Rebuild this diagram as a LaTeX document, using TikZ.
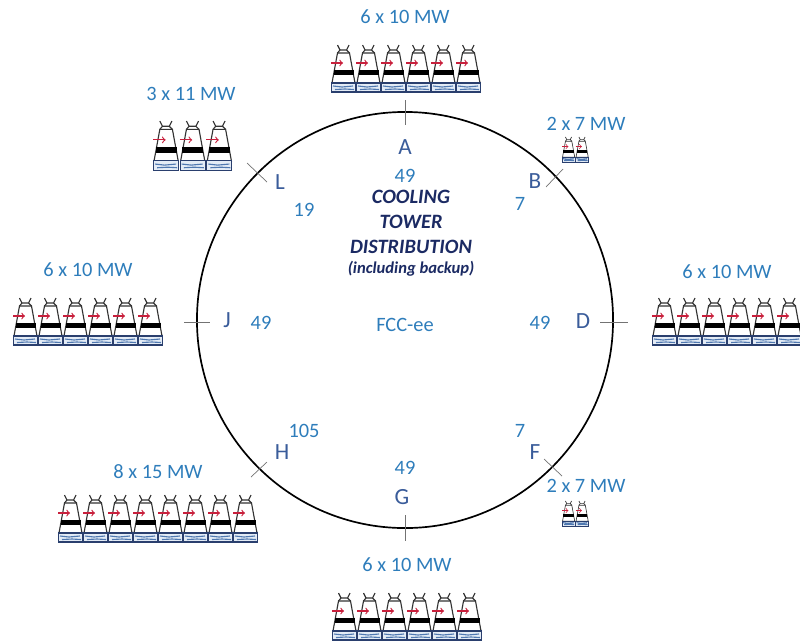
\documentclass[tikz,border=0pt]{standalone}
\usepackage{xcolor}
\usepackage{fontspec}
\setmainfont{Carlito}
\usepackage{tikz}
\usetikzlibrary{arrows,positioning}

\definecolor{labelblue}{HTML}{2E7DBB}
\definecolor{letterblue}{HTML}{3A5C9A}
\definecolor{titlenavy}{HTML}{1B2A63}
\definecolor{basenavy}{HTML}{2A3F6E}
\definecolor{waterblue}{HTML}{E4ECF6}
\definecolor{wavedark}{HTML}{4F78B0}
\definecolor{intakered}{HTML}{C8203C}

\begin{document}
\begin{tikzpicture}[
    x=0.025cm, y=-0.025cm,
    power/.style={font=\fontsize{14.5}{16}\selectfont, text=labelblue, inner sep=0pt},
    load/.style={font=\fontsize{14.5}{16}\selectfont, text=labelblue, inner sep=0pt},
    point/.style={font=\fontsize{16.5}{18}\selectfont, text=letterblue, inner sep=0pt},
    heading/.style={font=\fontsize{14.5}{16}\selectfont\bfseries\itshape, text=titlenavy, inner sep=0pt},
    tick/.style={draw=black!55, line width=0.5pt},
    tower/.pic={
        % shell
        \draw[draw=black!80, fill=white] (1,38) -- (6.5,8) -- (18.5,8) -- (24,38) -- cycle;
        \fill[black] (2.5,25) rectangle (22.5,30);
        % base with water
        \draw[draw=basenavy, fill=waterblue] (0.5,38) rectangle (24.5,47);
        \draw[wavedark, line width=0.8pt] (2,41) -- (11,42) -- (22,41) (4,44.5) -- (14,44) -- (23,44.5);
        % neck
        \draw[black!80] (6.5,8) -- (9,5) -- (6.5,0) (18.5,8) -- (15.5,5) -- (18,0) (9,5) -- (15.5,5);
        % intake
        \draw[->, intakered] (0,18) -- (12,18);
    }
]
\useasboundingbox (0,0) rectangle (800,640);

% Ring
\node[circle, draw, line width=1.2pt, minimum size=10.4cm, inner sep=0pt] (ring) at (405,320) {};

% Ticks
\foreach \name/\xa/\ya/\xb/\yb in {A/405/100/405/125, B/563/169/546/187, D/600/322/628/322, F/544/459/562/476,
    G/405/515/405/541, H/251/477/267/462, J/184/322/210/322, L/247/163/267/182} {
    \coordinate (tick\name a) at (\xa,\ya);
    \coordinate (tick\name b) at (\xb,\yb);
    \draw[tick] (tick\name a) -- (tick\name b);
}

% Towers
\foreach \name/\xo/\yo/\n/\w/\s/\lw in {A/331/45/6/25/1/0.8, B/562/137/2/13.5/0.53/0.45, D/652/298/6/25/1/0.8, F/562/501/2/13.5/0.53/0.45,
    G/332/593/6/25/1/0.8, H/58/495/8/25/1/0.8, J/13/298/6/25/1/0.8, L/153/121/3/26.6/1.05/0.8} {
    \foreach \i [evaluate=\i as \xt using \xo+(\i-1)*\w] in {1,...,\n} {
        \pic[scale=\s, line width=\lw pt] (tower\name\i) at (\xt,\yo) {tower};
    }
}

% Ratings
\node[power] (ratingA) at (405,17) {6 x 10 MW};
\node[power] (ratingB) at (586,124) {2 x 7 MW};
\node[power] (ratingD) at (727,272) {6 x 10 MW};
\node[power] (ratingF) at (586,486) {2 x 7 MW};
\node[power] (ratingG) at (407,565) {6 x 10 MW};
\node[power] (ratingH) at (158,472) {8 x 15 MW};
\node[power] (ratingJ) at (88,270) {6 x 10 MW};
\node[power] (ratingL) at (191,94) {3 x 11 MW};

% Points
\node[point] (pointA) at (405,147) {A};
\node[point] (pointB) at (535,181) {B};
\node[point] (pointD) at (583,321) {D};
\node[point] (pointF) at (535,452) {F};
\node[point] (pointG) at (402,497) {G};
\node[point] (pointH) at (282,452) {H};
\node[point] (pointJ) at (227,320) {J};
\node[point] (pointL) at (280,182) {L};

% Loads
\node[load] (loadA) at (405,176) {49};
\node[load] (loadB) at (520,204) {7};
\node[load] (loadD) at (540,323) {49};
\node[load] (loadF) at (520,431) {7};
\node[load] (loadG) at (405,468) {49};
\node[load] (loadH) at (304,431) {105};
\node[load] (loadJ) at (261,323) {49};
\node[load] (loadL) at (304,210) {19};
\node[load] (fcc) at (405,325) {FCC-ee};

% Title
\node[heading] (title1) at (411,197) {COOLING};
\node[heading] (title2) at (411,222) {TOWER};
\node[heading] (title3) at (411,247) {DISTRIBUTION};
\node[heading, font=\fontsize{11.8}{13}\selectfont\bfseries\itshape] (title4) at (411,269) {(including backup)};

\end{tikzpicture}
\end{document}
